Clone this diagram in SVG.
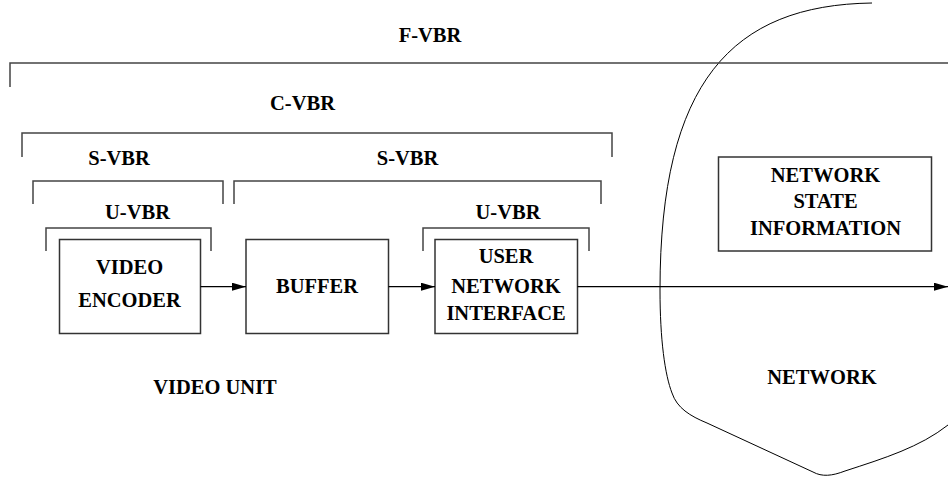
<svg xmlns="http://www.w3.org/2000/svg" width="948" height="477" viewBox="0 0 948 477" font-family="Liberation Serif, serif" font-weight="bold" font-size="20.5">
<defs>
<style>
.t{text-anchor:middle;fill:#000}
.br{fill:none;stroke:#444;stroke-width:1.5}
.box{fill:#fff;stroke:#333;stroke-width:1.5}
.cn{fill:none;stroke:#000;stroke-width:1.2}
</style>
<marker id="ah" markerWidth="14" markerHeight="8" refX="14" refY="4" orient="auto" markerUnits="userSpaceOnUse">
<path d="M0,0 L14,4 L0,8 Z" fill="#000"/>
</marker>
</defs>
<rect width="948" height="477" fill="#fff"/>
<g id="network-cloud">
<path d="M872,3 C732,5 660,82 660,290 C660,340 665,375 672,393 C677,408 690,416 707,423 L813,472 C822,477 832,476 845,471 C885,458 920,447 948,425" fill="none" stroke="#000" stroke-width="1"/>
<text class="t" x="822" y="383.5">NETWORK</text>
</g>
<g id="brackets">
<path class="br" d="M10,87 V63 H948"/>
<text class="t" x="430" y="41.7">F-VBR</text>
<path class="br" d="M22,157 V133 H612 V157"/>
<text class="t" x="302.5" y="109.7">C-VBR</text>
<path class="br" d="M33,204 V181 H223 V204"/>
<text class="t" x="119" y="164.7">S-VBR</text>
<path class="br" d="M234,204 V181 H601 V204"/>
<text class="t" x="407.5" y="164.7">S-VBR</text>
<path class="br" d="M46,251 V228 H211 V251"/>
<text class="t" x="137.5" y="218.7">U-VBR</text>
<path class="br" d="M423,251 V228 H589 V251"/>
<text class="t" x="508" y="218.7">U-VBR</text>
</g>
<g id="video-encoder">
<rect class="box" x="59.5" y="239.5" width="141" height="94"/>
<text class="t" x="129.5" y="274">VIDEO</text>
<text class="t" x="129.5" y="307.3">ENCODER</text>
</g>
<g id="buffer">
<rect class="box" x="246" y="239.5" width="142.5" height="94"/>
<text class="t" x="317" y="293.4">BUFFER</text>
</g>
<g id="user-network-interface">
<rect class="box" x="435" y="239.5" width="142.5" height="94"/>
<text class="t" x="506" y="263.4">USER</text>
<text class="t" x="506" y="292.7">NETWORK</text>
<text class="t" x="506" y="320">INTERFACE</text>
</g>
<g id="network-state-information">
<rect class="box" x="718.5" y="157" width="213" height="94"/>
<text class="t" x="825.5" y="181.7">NETWORK</text>
<text class="t" x="825.5" y="208.3">STATE</text>
<text class="t" x="825.5" y="235">INFORMATION</text>
</g>
<g id="video-unit-label">
<text class="t" x="215" y="394">VIDEO UNIT</text>
</g>
<g id="connectors">
<line class="cn" x1="200.5" y1="286.7" x2="246" y2="286.7" marker-end="url(#ah)"/>
<line class="cn" x1="388.5" y1="286.7" x2="435" y2="286.7" marker-end="url(#ah)"/>
<line class="cn" x1="577.5" y1="286.7" x2="948" y2="286.7" marker-end="url(#ah)"/>
</g>
</svg>
